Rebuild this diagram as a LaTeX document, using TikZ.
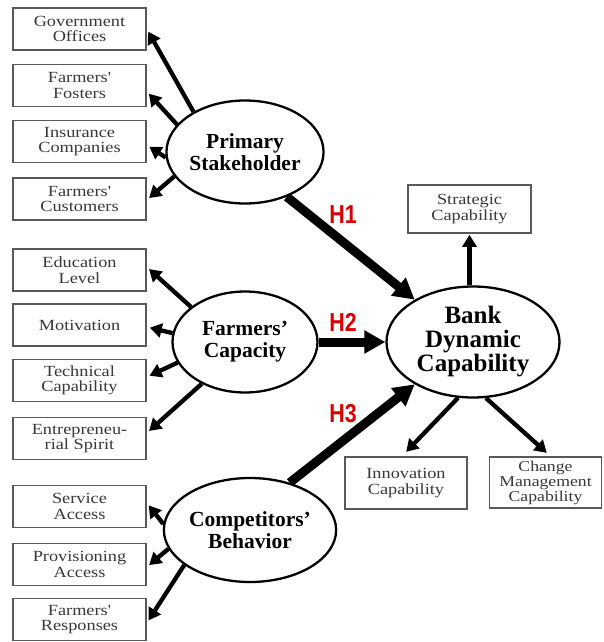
\documentclass[tikz,border=0pt]{standalone}
\usepackage{fontspec}
\setmainfont{Liberation Serif}
\newfontfamily\boxfont[FakeStretch=1.18]{Liberation Serif}
\newfontfamily\hfont[FakeStretch=0.82]{Liberation Sans}
\usetikzlibrary{arrows.meta,calc,shapes.geometric}

\tikzset{
  item/.style={draw=black!65, line width=1.6pt, minimum width=133pt, minimum height=42pt,
    inner sep=1pt, align=center, text=black!78,
    font=\boxfont\fontsize{15.5}{15.5}\selectfont},
  latent/.style={ellipse, draw, line width=2.3pt, inner sep=0pt, align=center,
    font=\bfseries\fontsize{21.5}{22}\selectfont},
  load/.style={line width=4.3pt, -{Triangle[length=12pt,width=14pt]}, shorten >=3pt},
  hyp/.style={line width=9pt, -{Triangle[length=21pt,width=22pt]}},
  hlabel/.style={text=red!85!black, font=\hfont\bfseries\fontsize{26}{26}\selectfont}
}

\begin{document}
\begin{tikzpicture}[x=1pt, y=-1pt]
\useasboundingbox (0,0) rectangle (603,642);
\fill[white] (0,0) rectangle (603,642);

% indicator boxes on the left
\node[item] (gov) at (79.5,29)    {Government\\Offices};
\node[item] (fos) at (79.5,85.5)  {Farmers'\\Fosters};
\node[item] (ins) at (79.5,141.5) {Insurance\\Companies};
\node[item] (cus) at (79.5,199)   {Farmers'\\Customers};
\node[item] (edu) at (79.5,270)   {Education\\Level};
\node[item] (mot) at (79.5,325)   {Motivation};
\node[item] (tec) at (79.5,380.5) {Technical\\Capability};
\node[item] (ent) at (79.5,438.5) {Entrepreneu-\\rial Spirit};
\node[item] (ser) at (79.5,506.5) {Service\\Access};
\node[item] (pro) at (79.5,564.5) {Provisioning\\Access};
\node[item] (res) at (79.5,619.5) {Farmers'\\Responses};

% indicator boxes on the right
\node[item, minimum width=123pt, minimum height=48pt] (str) at (469.5,209) {Strategic\\Capability};
\node[item, minimum width=122pt, minimum height=52pt] (inn) at (406,483) {Innovation\\Capability};
\node[item, minimum width=112pt, minimum height=51pt, inner sep=0pt,
      font=\boxfont\fontsize{15}{15}\selectfont] (chg) at (545.5,482.5) {Change\\Management\\Capability};

% constructs
\node[latent, minimum width=145pt, minimum height=103pt] (ps) at (245,152) {Primary\\Stakeholder};
\node[latent, minimum width=145pt, minimum height=101pt] (fc) at (245,342) {Farmers'\\Capacity};
\node[latent, minimum width=156pt, minimum height=104pt] (cb) at (250,530) {Competitors'\\Behavior};
\node[latent, minimum width=173pt, minimum height=111pt,
      font=\bfseries\fontsize{25}{24}\selectfont] (bdc) at (473,342) {Bank\\Dynamic\\Capability};

% loadings of Primary Stakeholder
\draw[load] (ps.142) -- (gov.east);
\draw[load] (ps.158) -- ($(fos.east)+(0,6)$);
\draw[load] (ps.184) -- ($(ins.east)+(0,3.5)$);
\draw[load] (ps.199) -- ($(cus.east)+(0,1)$);

% loadings of Farmers' Capacity
\draw[load] (fc.147) -- ($(edu.east)+(0,-3)$);
\draw[load] (fc.173) -- ($(mot.east)+(0,2)$);
\draw[load] (fc.197) -- ($(tec.east)+(0,-3.5)$);
\draw[load] (fc.224) -- ($(ent.east)+(0,-5.5)$);

% loadings of Competitors' Behavior
\draw[load] (cb.176) -- ($(ser.east)+(0,-3.5)$);
\draw[load] (cb.193) -- ($(pro.east)+(0,2.5)$);
\draw[load] (cb.208) -- ($(res.east)+(0,3.5)$);

% loadings of Bank Dynamic Capability
\draw[load, shorten >=1pt] (bdc.north -| str.south) -- (str.south);
\draw[load, shorten >=6pt] (bdc.255) -- ($(inn.north)+(-4,0)$);
\draw[load, shorten >=5pt] (bdc.283) -- ($(chg.north)+(5,0)$);

% hypothesised paths
\draw[hyp] (ps.313) -- (bdc.144);
\draw[hyp] (fc.east) -- (bdc.west);
\draw[hyp] (cb.50) -- (bdc.216);

\node[hlabel] (h1) at (343,215) {H1};
\node[hlabel] (h2) at (343,322) {H2};
\node[hlabel] (h3) at (343,414) {H3};
\end{tikzpicture}
\end{document}
